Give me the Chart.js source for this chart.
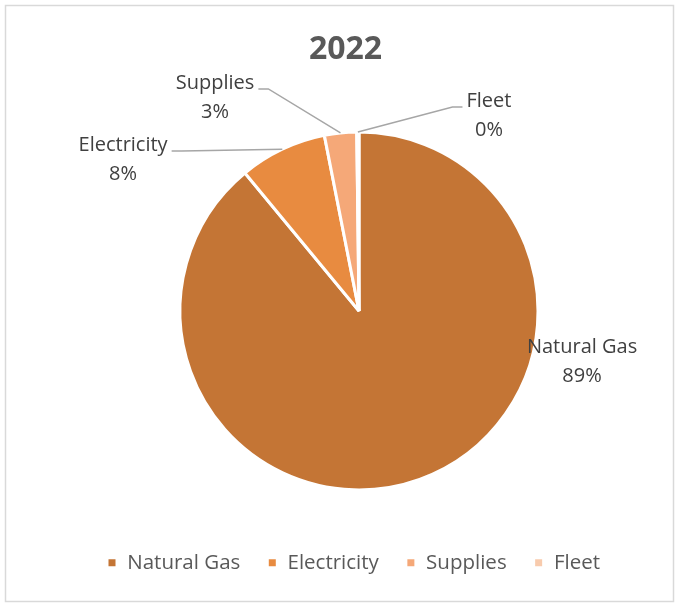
<!DOCTYPE html>
<html>
<head>
<meta charset="utf-8">
<script src="https://cdn.jsdelivr.net/npm/chart.js@4.4.0/dist/chart.umd.min.js"></script>
<style>
  html, body { margin: 0; padding: 0; background: #fff; }
  #wrap { width: 679px; height: 605px; position: relative; }
</style>
</head>
<body>
<div id="wrap"><canvas id="myChart" width="679" height="605"></canvas></div>
<script>
const labels = ['Natural Gas', 'Electricity', 'Supplies', 'Fleet'];
const shares = [89.0, 7.9, 2.9, 0.2];
const sliceColors = ['#C47535', '#E88B40', '#F5A878', '#F8CBAD'];
const titleText = '2022';

// where each data label sits, relative to the pie centre in radius units, and how its leader line attaches
const labelPlaces = [
  { at: [1.246, 0.201], line: null },
  { at: [-1.318, -0.927], line: 'right' },
  { at: [-0.804, -1.274], line: 'right' },
  { at: [0.726, -1.173], line: 'left' }
];

const frame = {
  id: 'frame',
  beforeDraw(chart) {
    const c = chart.ctx;
    c.save();
    c.strokeStyle = '#d9d9d9';
    c.lineWidth = 1.5;
    c.strokeRect(5.5, 5.5, 668, 596);
    c.restore();
  },
  afterDraw(chart) {
    // title drawn by hand so it can sit a bit left of the pie centre, like the original
    const tb = chart.titleBlock;
    const c = chart.ctx;
    c.save();
    c.font = 'bold 32px "Open Sans"';
    c.fillStyle = '#595959';
    c.textAlign = 'center';
    c.textBaseline = 'middle';
    c.fillText(titleText, chart.width / 2 + 6, tb.top + 21 + 19.2);
    c.restore();
  }
};

const outLabels = {
  id: 'outLabels',
  afterDatasetsDraw(chart) {
    const c = chart.ctx;
    const meta = chart.getDatasetMeta(0);
    const vals = chart.data.datasets[0].data;
    const total = vals.reduce((a, b) => a + b, 0);
    c.save();
    c.font = '20px "Open Sans"';
    c.textAlign = 'center';
    c.textBaseline = 'middle';
    meta.data.forEach((arc, i) => {
      const p = arc.getProps(['x', 'y', 'startAngle', 'endAngle', 'outerRadius'], true);
      const mid = (p.startAngle + p.endAngle) / 2;
      const r = p.outerRadius;
      const ax = p.x + Math.cos(mid) * r;
      const ay = p.y + Math.sin(mid) * r;
      const place = labelPlaces[i];
      const lx = p.x + place.at[0] * r;
      const ly = p.y + place.at[1] * r;
      const name = chart.data.labels[i];
      const pct = Math.round(vals[i] / total * 100) + '%';
      if (place.line) {
        const w = c.measureText(name).width;
        const dir = place.line === 'right' ? 1 : -1;
        const ex = lx + dir * (w / 2 + 4);
        const ey = ly + 6;
        c.strokeStyle = '#a6a6a6';
        c.lineWidth = 1.5;
        c.beginPath();
        c.moveTo(ax, ay);
        c.lineTo(ex + dir * 10, ey);
        c.lineTo(ex, ey);
        c.stroke();
      }
      c.fillStyle = '#404040';
      c.fillText(name, lx, ly);
      c.fillText(pct, lx, ly + 29);
    });
    c.restore();
  }
};

const cxt = document.getElementById('myChart').getContext('2d');
const myChart = new Chart(cxt, {
  type: 'pie',
  data: {
    labels: labels,
    datasets: [{
      data: shares,
      backgroundColor: sliceColors,
      borderColor: '#ffffff',
      borderWidth: 3
    }]
  },
  options: {
    responsive: false,
    animation: false,
    radius: 179,
    layout: { padding: { left: 80, right: 41, top: 10, bottom: 22 } },
    plugins: {
      title: {
        display: true,
        text: titleText,
        color: 'rgba(0,0,0,0)',
        font: { family: 'Open Sans', size: 32, weight: 'bold' },
        padding: { top: 21, bottom: 27 }
      },
      legend: {
        position: 'bottom',
        align: 'start',
        labels: {
          color: '#595959',
          font: { family: 'Open Sans', size: 20.5 },
          boxWidth: 10,
          boxHeight: 10,
          padding: 27
        }
      },
      tooltip: { enabled: false }
    }
  },
  plugins: [frame, outLabels]
});
</script>
</body>
</html>
